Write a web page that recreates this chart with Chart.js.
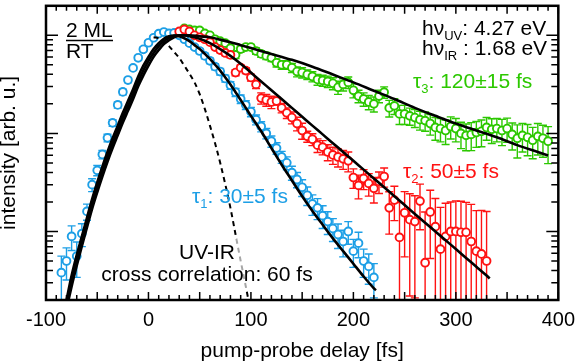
<!DOCTYPE html>
<html><head><meta charset="utf-8">
<script src="https://cdn.jsdelivr.net/npm/chart.js@4"></script>
<style>html,body{margin:0;padding:0;background:#fff;}canvas{display:block;}</style>
</head><body>
<canvas id="c" width="583" height="364"></canvas>
<script>
// ---------- data (delay in fs, intensity in arb. u.) ----------
const xTickLabels = [-100, 0, 100, 200, 300, 400];
const yDecades = [0.001, 0.01, 0.1, 1];

const blueT = [-85,-80,-75,-70,-65,-60,-55,-50,-45,-40,-35,-30,-25,-20,-15,-10,-5,0,5,10,15,20,25,30,35,40,45,50,55,60,65,70,75,80,85,90,95,100,105,110,115,120,125,130,135,140,145,150,155,160,165,170,175,180,185,190,195,200,205,210,215,220];
const blueI = [0.0038,0.0050,0.0089,0.0056,0.0095,0.0160,0.0300,0.0420,0.061,0.090,0.128,0.195,0.265,0.350,0.465,0.59,0.72,0.84,0.945,1.04,1.08,1.047,1.06,1.0,0.912,0.832,0.759,0.692,0.617,0.55,0.479,0.427,0.363,0.309,0.263,0.224,0.195,0.166,0.138,0.1175,0.1,0.0832,0.0708,0.0575,0.0501,0.0398,0.0339,0.0282,0.0234,0.0191,0.0174,0.0145,0.0126,0.0107,0.0093,0.0079,0.0100,0.0063,0.0076,0.0050,0.0044,0.0034];
const blueE = [0.0018,0.0018,0.0025,0.0022,0.0025,0.003,0.0045,0.005,0.006,0.008,0.01,0.014,0.017,0.02,0.025,0.03,0.035,0.04,0.04,0.04,0.04,0.04,0.04,0.04,0.04,0.04,0.04,0.04,0.04,0.035,0.035,0.033,0.03,0.028,0.025,0.022,0.02,0.018,0.016,0.014,0.012,0.011,0.0095,0.008,0.0075,0.0065,0.006,0.0055,0.005,0.0045,0.0042,0.0038,0.0033,0.0028,0.0026,0.0024,0.0026,0.002,0.0022,0.0016,0.0015,0.0013];

const redT = [30,35,40,45,50,55,60,65,70,75,80,85,90,95,100,105,110,115,120,125,130,135,140,145,150,155,160,165,170,175,180,185,190,195,200,205,210,215,220,225,230,235,240,245,250,255,260,265,270,275,280,285,290,295,300,305,310,315,320,325,330];
const redI = [1.096,1.148,1.096,1.0,0.955,0.912,0.851,0.759,0.708,0.661,0.631,0.417,0.468,0.437,0.372,0.316,0.229,0.219,0.209,0.214,0.182,0.162,0.145,0.126,0.107,0.0933,0.0871,0.0759,0.0724,0.0646,0.0603,0.0575,0.055,0.0525,0.0355,0.0295,0.0347,0.0309,0.0275,0.0324,0.0363,0.0174,0.0209,0.0087,0.0155,0.0132,0.0126,0.0204,0.0048,0.0158,0.0112,0.0066,0.0089,0.01,0.01,0.0098,0.0098,0.0079,0.0063,0.0059,0.005];
const redE = [0.04,0.04,0.04,0.04,0.04,0.04,0.04,0.04,0.04,0.04,0.04,0.03,0.03,0.03,0.03,0.03,0.03,0.03,0.03,0.02,0.02,0.02,0.02,0.02,0.02,0.012,0.012,0.012,0.012,0.012,0.012,0.012,0.012,0.012,0.008,0.008,0.008,0.008,0.008,0.008,0.008,0.008,0.008,0.011,0.01,0.011,0.0105,0.01,0.011,0.0105,0.0105,0.011,0.0105,0.01,0.0105,0.0105,0.01,0.011,0.01,0.0105,0.011];

const greenT = [35,40,45,50,55,60,65,70,75,80,85,90,95,100,105,110,115,120,125,130,135,140,145,150,155,160,165,170,175,180,185,190,195,200,205,210,215,220,225,230,235,240,245,250,255,260,265,270,275,280,285,290,295,300,305,310,315,320,325,330,335,340,345,350,355,360,365,370,375,380,385,390];
const greenI = [1.175,1.148,1.122,1.122,1.047,1.0,0.912,0.871,0.832,0.741,0.631,0.724,0.759,0.759,0.692,0.646,0.617,0.589,0.525,0.501,0.501,0.468,0.427,0.417,0.398,0.38,0.355,0.347,0.339,0.324,0.295,0.316,0.331,0.275,0.24,0.224,0.209,0.2,0.24,0.263,0.182,0.191,0.158,0.158,0.151,0.145,0.138,0.135,0.126,0.115,0.112,0.107,0.1175,0.112,0.1,0.0955,0.0977,0.102,0.105,0.115,0.11,0.112,0.107,0.112,0.0977,0.0891,0.0955,0.0912,0.0851,0.0933,0.0891,0.0832];
const greenE = [0.05,0.05,0.05,0.05,0.05,0.05,0.05,0.05,0.05,0.05,0.05,0.05,0.05,0.05,0.05,0.05,0.05,0.05,0.05,0.05,0.05,0.05,0.05,0.05,0.045,0.045,0.045,0.045,0.045,0.045,0.045,0.045,0.045,0.045,0.035,0.035,0.035,0.035,0.035,0.035,0.035,0.035,0.035,0.035,0.03,0.03,0.03,0.03,0.03,0.03,0.03,0.03,0.03,0.03,0.03,0.029,0.031,0.03,0.032,0.03,0.031,0.03,0.032,0.031,0.03,0.033,0.031,0.032,0.03,0.033,0.032,0.034];

// fit curves (tau1 = 30 fs, tau2 = 50 fs, tau3 = 120 fs)
const fit1T = [-80,-75,-70,-65,-60,-55,-50,-45,-40,-35,-30,-25,-20,-15,-10,-5,0,5,10,15,20,25,30,35,40,45,50,55,60,65,70,75,80,85,90,95,100,110,120,130,140,150,160,170,180,190,200,210,220,222];
const fit1I = [0.0020,0.00355,0.00575,0.0089,0.0138,0.0214,0.0316,0.0457,0.0646,0.0891,0.12,0.162,0.214,0.282,0.38,0.49,0.603,0.724,0.832,0.923,0.977,0.995,0.977,0.933,0.871,0.794,0.724,0.646,0.575,0.501,0.437,0.372,0.316,0.263,0.219,0.182,0.151,0.105,0.0708,0.0479,0.0331,0.0229,0.0162,0.0117,0.0085,0.0063,0.00468,0.00347,0.00263,0.00251];
const fit2T = [-79,-75,-70,-65,-60,-55,-50,-45,-40,-35,-30,-25,-20,-15,-10,-5,0,5,10,15,20,25,30,35,40,45,50,55,60,70,80,90,100,110,120,130,140,150,160,170,180,190,200,210,220,230,240,250,260,270,280,290,300,310,320,330,333];
const fit2I = [0.002,0.00316,0.00513,0.00794,0.0123,0.0191,0.0282,0.0407,0.0575,0.0794,0.107,0.145,0.191,0.251,0.339,0.437,0.55,0.661,0.776,0.871,0.944,0.989,1.0,1.0,0.977,0.955,0.923,0.881,0.832,0.724,0.617,0.513,0.417,0.339,0.275,0.224,0.182,0.148,0.12,0.0977,0.0794,0.0646,0.0525,0.0427,0.0347,0.0282,0.0229,0.0186,0.0151,0.0123,0.01,0.00813,0.00661,0.00537,0.00437,0.00355,0.00331];
const fit3T = [-78,-75,-70,-65,-60,-55,-50,-45,-40,-35,-30,-25,-20,-15,-10,-5,0,5,10,15,20,25,30,40,50,60,70,80,90,100,120,140,160,180,200,220,240,260,280,300,320,340,360,380,390];
const fit3I = [0.002,0.00275,0.00447,0.00708,0.011,0.017,0.0251,0.0363,0.0513,0.0708,0.0955,0.129,0.17,0.224,0.302,0.389,0.49,0.603,0.708,0.813,0.891,0.955,0.989,1.0,0.977,0.955,0.904,0.851,0.794,0.741,0.646,0.562,0.479,0.398,0.331,0.272,0.224,0.182,0.151,0.126,0.107,0.0912,0.0759,0.0646,0.0596];
// UV-IR cross correlation (60 fs), falling edge
const xcT = [5,10,15,20,25,30,35,40,45,50,55,60,65,70,75,80,85,90,95,98];
const xcI = [0.955,0.933,0.871,0.776,0.676,0.589,0.49,0.407,0.331,0.251,0.178,0.12,0.0794,0.0501,0.0302,0.0174,0.0093,0.005,0.00275,0.0019];

// ---------- styles ----------
const FONT = '"Liberation Sans", Arial, Helvetica, sans-serif';
const C_BLUE = '#1d9fe6', C_RED = '#ff1212', C_GREEN = '#2cc800';

const pts = (T, I) => T.map((t, i) => ({x: t, y: I[i]}));

function dataSet(T, I, E, color, order) {
  return { data: pts(T, I), errors: E, showLine: false, borderColor: color,
    pointBorderColor: color, pointBackgroundColor: '#ffffff', pointRadius: 3.9,
    pointBorderWidth: 1.9, pointHoverRadius: 3.9, order: order, clip: 6 };
}
function fitSet(T, I, dash) {
  return { data: pts(T, I), borderColor: '#000', borderWidth: dash ? 2 : 2.6,
    borderDash: dash || [], pointRadius: 0, cubicInterpolationMode: 'monotone',
    fill: false, order: dash ? 1 : 0 };
}

const errorBars = { id: 'errorBars', beforeDatasetsDraw(chart) {
  const {ctx, chartArea: a, scales: {y}} = chart;
  ctx.save();
  ctx.beginPath(); ctx.rect(a.left, a.top, a.right - a.left, a.bottom - a.top); ctx.clip();
  chart.data.datasets.forEach((ds, di) => {
    if (!ds.errors) return;
    const meta = chart.getDatasetMeta(di);
    ctx.strokeStyle = ds.borderColor; ctx.lineWidth = 1.4;
    meta.data.forEach((el, i) => {
      const v = ds.data[i].y, e = ds.errors[i];
      const px = el.x;
      const yt = y.getPixelForValue(v + e);
      const lo = v - e;
      const yb = lo > 0 ? y.getPixelForValue(lo) : a.bottom + 20;
      ctx.beginPath();
      ctx.moveTo(px, yt); ctx.lineTo(px, yb);
      ctx.moveTo(px - 4, yt); ctx.lineTo(px + 4, yt);
      if (lo > 0) { ctx.moveTo(px - 4, yb); ctx.lineTo(px + 4, yb); }
      ctx.stroke();
    });
  });
  ctx.restore();
}};

const frame = { id: 'frame', afterDatasetsDraw(chart) {
  const {ctx, chartArea: a, scales: {x, y}} = chart;
  ctx.save();
  // translucent box behind the cross-correlation label
  ctx.fillStyle = 'rgba(255,255,255,0.65)';
  ctx.fillRect(98, 239, 222, 50);
  ctx.strokeStyle = '#000'; ctx.lineWidth = 1.5;
  ctx.beginPath();
  for (let t = x.min; t <= x.max; t += 10) {
    const px = x.getPixelForValue(t);
    const len = (t % 50 === 0) ? 8 : 5;
    ctx.moveTo(px, a.bottom); ctx.lineTo(px, a.bottom - len);
    ctx.moveTo(px, a.top); ctx.lineTo(px, a.top + len);
  }
  yDecades.forEach(d => {
    for (let m = 1; m <= 9; m++) {
      const v = m * d;
      if (v < y.min || v > y.max) continue;
      const py = y.getPixelForValue(v);
      const len = m === 1 ? 12 : 7;
      ctx.moveTo(a.left, py); ctx.lineTo(a.left + len, py);
      ctx.moveTo(a.right, py); ctx.lineTo(a.right - len, py);
    }
  });
  ctx.stroke();
  ctx.lineWidth = 2.5;
  ctx.strokeRect(a.left, a.top, a.right - a.left, a.bottom - a.top);
  ctx.restore();
}};

function rich(ctx, x, y, parts, color, align) {
  let w = 0;
  parts.forEach(p => { ctx.font = (p.s ? '13px ' : '21px ') + FONT; w += ctx.measureText(p.t).width; });
  let cx = align === 'center' ? x - w / 2 : x;
  ctx.fillStyle = color; ctx.textAlign = 'left'; ctx.textBaseline = 'alphabetic';
  parts.forEach(p => {
    ctx.font = (p.s ? '13px ' : '21px ') + FONT;
    ctx.fillText(p.t, cx, y + (p.s ? 4.5 : 0));
    cx += ctx.measureText(p.t).width;
  });
}

const labels = { id: 'labels', afterDraw(chart) {
  const ctx = chart.ctx;
  ctx.save();
  rich(ctx, 66, 37, [{t: '2 ML'}], '#000');
  ctx.strokeStyle = '#000'; ctx.lineWidth = 1.4;
  ctx.beginPath(); ctx.moveTo(66, 40.5); ctx.lineTo(113, 40.5); ctx.stroke();
  rich(ctx, 66, 58, [{t: 'RT'}], '#000');
  rich(ctx, 422, 35, [{t: 'hν'}, {t: 'UV', s: 1}, {t: ': 4.27 eV'}], '#000');
  rich(ctx, 422, 55, [{t: 'hν'}, {t: 'IR', s: 1}, {t: ' : 1.68 eV'}], '#000');
  rich(ctx, 413, 88, [{t: 'τ'}, {t: '3', s: 1}, {t: ': 120±15 fs'}], C_GREEN);
  rich(ctx, 403, 178, [{t: 'τ'}, {t: '2', s: 1}, {t: ': 50±5 fs'}], C_RED);
  rich(ctx, 192, 203, [{t: 'τ'}, {t: '1', s: 1}, {t: ': 30±5 fs'}], C_BLUE);
  rich(ctx, 207, 259, [{t: 'UV-IR'}], '#000', 'center');
  rich(ctx, 207, 281, [{t: 'cross correlation: 60 fs'}], '#000', 'center');
  ctx.restore();
}};

new Chart(document.getElementById('c'), {
  type: 'line',
  data: { datasets: [
    fitSet(fit1T, fit1I), fitSet(fit2T, fit2I), fitSet(fit3T, fit3I),
    fitSet(xcT, xcI, [5, 4]),
    dataSet(redT, redI, redE, C_RED, 2),
    dataSet(greenT, greenI, greenE, C_GREEN, 3),
    dataSet(blueT, blueI, blueE, C_BLUE, 4)
  ]},
  options: {
    responsive: false, animation: false, devicePixelRatio: 1,
    layout: { padding: { top: 2, right: 18, left: 0, bottom: 0 } },
    plugins: { legend: { display: false }, tooltip: { enabled: false } },
    events: [],
    scales: {
      x: { type: 'linear', position: 'bottom', min: -100, max: 400,
        grid: { display: false, drawTicks: false }, border: { display: false },
        afterBuildTicks: s => { s.ticks = xTickLabels.map(v => ({ value: v })); },
        ticks: { color: '#000', font: { family: FONT, size: 20 }, padding: 8,
          maxRotation: 0, autoSkip: false, callback: v => String(v) },
        title: { display: true, text: 'pump-probe delay [fs]', color: '#000',
          font: { family: FONT, size: 21 }, padding: { top: 0, bottom: 0 } },
        afterFit: s => { s.height = 64; } },
      y: { type: 'logarithmic', min: 0.002, max: 2,
        grid: { display: false, drawTicks: false }, border: { display: false },
        ticks: { display: false },
        title: { display: true, text: 'intensity [arb. u.]', color: '#000',
          font: { family: FONT, size: 21 }, padding: { top: -3, bottom: 0 } },
        afterFit: s => { s.width = 46; } }
    }
  },
  plugins: [errorBars, frame, labels]
});
</script>
</body></html>
